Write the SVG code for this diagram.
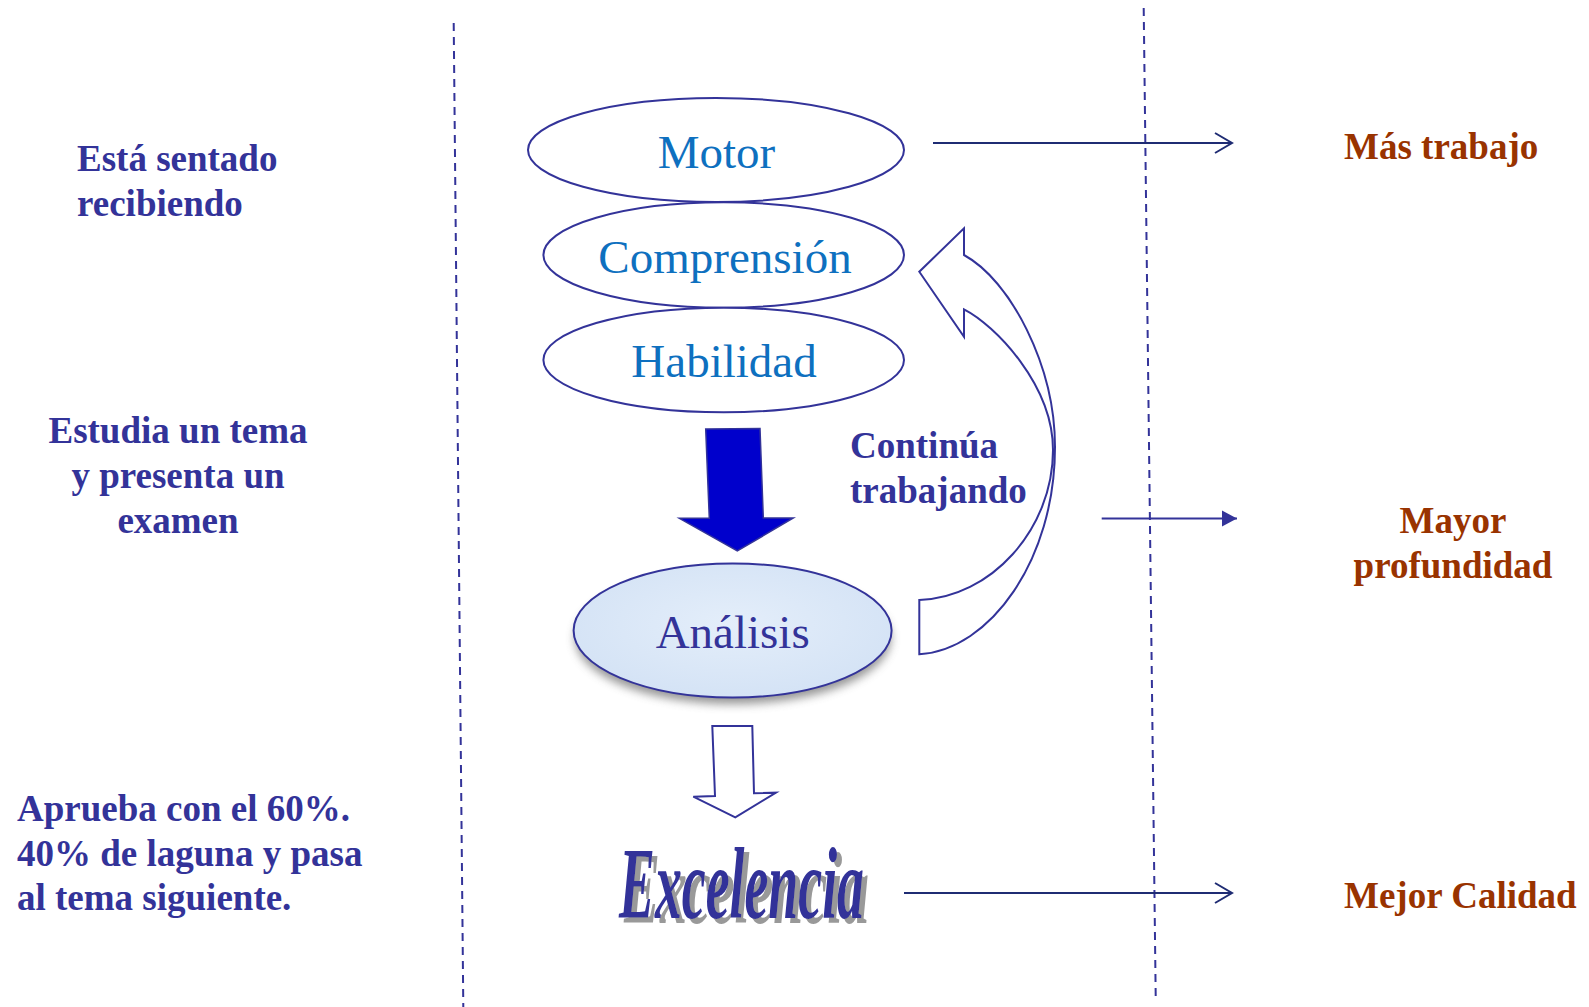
<svg xmlns="http://www.w3.org/2000/svg" width="1589" height="1007" viewBox="0 0 1589 1007">
<style>
  .lbl{font-family:"Liberation Serif","Times New Roman",serif;font-weight:bold;font-size:37px;fill:#333399}
  .res{font-family:"Liberation Serif","Times New Roman",serif;font-weight:bold;font-size:37px;fill:#993300}
  .ell{fill:#ffffff;stroke:#333399;stroke-width:2}
  .et{font-family:"Liberation Serif","Times New Roman",serif;font-size:47px;fill:#0E70BF;text-anchor:middle}
  .dash{stroke:#333399;stroke-width:2;stroke-dasharray:8 6;fill:none}
  .navy{stroke:#1F2C73;stroke-width:2;fill:none}
  .blk{fill:#ffffff;stroke:#333399;stroke-width:2;stroke-linejoin:miter}
</style>
<defs>
  <marker id="open" markerWidth="20" markerHeight="24" refX="18" refY="11" orient="auto" markerUnits="userSpaceOnUse">
    <path d="M1,1 L18,11 L1,21" fill="none" stroke="#1F2C73" stroke-width="2"/>
  </marker>
  <marker id="tri" markerWidth="16" markerHeight="18" refX="15" refY="9" orient="auto" markerUnits="userSpaceOnUse">
    <path d="M0,1 L15,9 L0,17 Z" fill="#333399"/>
  </marker>
  <filter id="shadow" x="-20%" y="-20%" width="140%" height="160%">
    <feGaussianBlur stdDeviation="5"/>
  </filter>
  <filter id="wordshadow" x="-5%" y="-10%" width="115%" height="130%">
    <feOffset in="SourceAlpha" dx="5" dy="5" result="off"/>
    <feFlood flood-color="#999999" result="gray"/>
    <feComposite in="gray" in2="off" operator="in" result="sh"/>
    <feMerge>
      <feMergeNode in="sh"/>
      <feMergeNode in="SourceGraphic"/>
    </feMerge>
  </filter>
  <radialGradient id="anfill" cx="50%" cy="45%" r="60%">
    <stop offset="0" stop-color="#e4eefa"/>
    <stop offset="1" stop-color="#d3e2f5"/>
  </radialGradient>
</defs>
<rect width="1589" height="1007" fill="#ffffff"/>

<g id="dividers">
  <line class="dash" x1="453.7" y1="23" x2="463.3" y2="1007"/>
  <line class="dash" x1="1143.7" y1="8" x2="1155.7" y2="996"/>
</g>

<g id="left-labels">
  <text class="lbl" x="77" y="171">Está sentado</text>
  <text class="lbl" x="77" y="216">recibiendo</text>
  <text class="lbl" x="178" y="443" text-anchor="middle">Estudia un tema</text>
  <text class="lbl" x="178" y="488" text-anchor="middle">y presenta un</text>
  <text class="lbl" x="178" y="533" text-anchor="middle">examen</text>
  <text class="lbl" x="17" y="821">Aprueba con el 60%.</text>
  <text class="lbl" x="17" y="866">40% de laguna y pasa</text>
  <text class="lbl" x="17" y="910">al tema siguiente.</text>
</g>

<g id="node-motor">
  <ellipse class="ell" cx="716" cy="150" rx="188" ry="52"/>
  <text class="et" x="716.5" y="168">Motor</text>
</g>
<g id="node-comprension">
  <ellipse class="ell" cx="723.7" cy="255" rx="180.3" ry="52.7"/>
  <text class="et" x="725" y="272.5">Comprensión</text>
</g>
<g id="node-habilidad">
  <ellipse class="ell" cx="723.7" cy="360" rx="180.3" ry="52.3"/>
  <text class="et" x="724" y="376.5">Habilidad</text>
</g>

<g id="node-analisis">
  <ellipse cx="733" cy="638" rx="158" ry="66" fill="#7a7a7a" filter="url(#shadow)" opacity="0.8"/>
  <ellipse cx="732.6" cy="630.5" rx="159" ry="67" fill="url(#anfill)" stroke="#333399" stroke-width="2"/>
  <text x="732.7" y="648" text-anchor="middle" font-family="'Liberation Serif','Times New Roman',serif" font-size="47" fill="#333399">Análisis</text>
</g>

<g id="node-excelencia">
  <text x="619" y="918" filter="url(#wordshadow)" font-family="'Liberation Serif','Times New Roman',serif" font-weight="bold" font-style="italic" font-size="102" fill="#333399" textLength="245" lengthAdjust="spacingAndGlyphs">Excelencia</text>
</g>

<g id="label-continua">
  <text class="lbl" x="850" y="458">Continúa</text>
  <text class="lbl" x="850" y="503">trabajando</text>
</g>

<g id="right-labels">
  <text class="res" x="1344" y="159">Más trabajo</text>
  <text class="res" x="1453" y="533" text-anchor="middle">Mayor</text>
  <text class="res" x="1453" y="578" text-anchor="middle">profundidad</text>
  <text class="res" x="1344" y="908">Mejor Calidad</text>
</g>

<g id="connectors">
  <path d="M705.7,429 L760,428.5 L763.3,518 L793.3,518 L737.3,551 L679.3,518.3 L709.3,518.3 Z" fill="#0000CC" stroke="#333399" stroke-width="1.5"/>
  <path class="blk" d="M712.3,726 L752.3,726 L754,793.3 L776,792.7 L735.3,817.3 L693.3,796.7 L715,796 Z"/>
  <path class="blk" d="M919.3,654.3 C990,650 1055,560 1055,447 C1055,365 1010,280 964,255 L964,228.3 L919.3,271.7 L964,336.7 L964,309.3 C995,325 1053,385 1053,450 C1053,530 990,598 919.3,600 Z"/>
  <line class="navy" x1="933" y1="143" x2="1232" y2="143" marker-end="url(#open)"/>
  <line x1="1101.7" y1="518.5" x2="1237" y2="518.5" stroke="#333399" stroke-width="2" marker-end="url(#tri)"/>
  <line class="navy" x1="904" y1="893" x2="1232" y2="893" marker-end="url(#open)"/>
</g>
</svg>
